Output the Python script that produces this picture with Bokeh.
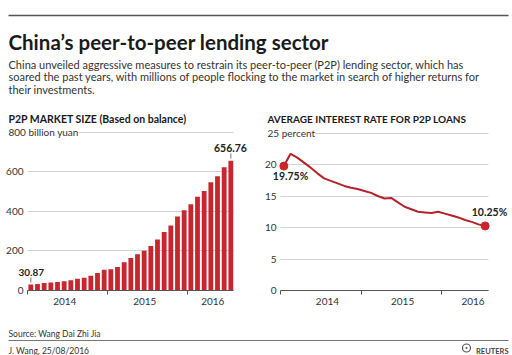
from bokeh.plotting import figure
from bokeh.layouts import column, row
from bokeh.models import Range1d, FixedTicker, Label
from bokeh.embed import file_html
from bokeh.resources import INLINE
from bokeh.core.properties import value

# ---------------- data ----------------
months = ["2014-01", "2014-02", "2014-03", "2014-04", "2014-05", "2014-06",
          "2014-07", "2014-08", "2014-09", "2014-10", "2014-11", "2014-12",
          "2015-01", "2015-02", "2015-03", "2015-04", "2015-05", "2015-06",
          "2015-07", "2015-08", "2015-09", "2015-10", "2015-11", "2015-12",
          "2016-01", "2016-02", "2016-03", "2016-04", "2016-05", "2016-06",
          "2016-07"]
market_size = [30.87, 33, 38, 41, 43, 47, 52, 59, 65, 75, 88, 105,
               107, 119, 143, 165, 184, 201, 225, 258, 296, 329, 374, 406,
               437, 474, 504, 548, 578, 624, 656.76]
interest_rate = [19.75, 21.7, 21.1, 20.3, 19.5, 18.6, 17.8, 17.4, 17.0, 16.6, 16.3, 16.1,
                 15.8, 15.5, 15.0, 14.6, 14.7, 14.0, 13.3, 12.9, 12.5, 12.4, 12.3, 12.5,
                 12.2, 11.9, 11.6, 11.2, 10.9, 10.5, 10.25]
year_labels = ["2014", "2015", "2016"]
year_starts = [0, 12, 24]
size_ticks = [0, 200, 400, 600, 800]
rate_ticks = [0, 5, 10, 15, 20, 25]

TITLE = "China\u2019s peer-to-peer lending sector"
SUBTITLE = ["China unveiled aggressive measures to restrain its peer-to-peer (P2P) lending sector, which has",
            "soared the past years, with millions of people flocking to the market in search of higher returns for",
            "their investments."]
LEFT_TITLE = "P2P MARKET SIZE (Based on balance)"
RIGHT_TITLE = "AVERAGE INTEREST RATE FOR P2P LOANS"
SOURCE = "Source: Wang Dai Zhi Jia"
CREDIT = "J. Wang,  25/08/2016"

FONT = "Lato"
RED = "#c9252f"
LINE_RED = "#b3232c"
TXT = "#333333"
GRID = "#d2d2d2"

x = [i + 0.5 for i in range(len(months))]

# ---------------- header ----------------
header = figure(width=512, height=125, x_range=Range1d(0, 512), y_range=Range1d(125, 0),
                x_axis_type=None, y_axis_type=None, toolbar_location=None,
                output_backend="svg", min_border=0, title=None)
header.grid.visible = False
header.outline_line_color = None
header.segment(x0=[8], y0=[15], x1=[508], y1=[15], line_color="#555555", line_width=1.3)
header.text(x=[8], y=[41.5], text=[TITLE], text_font=value(FONT), text_font_style="bold",
            text_font_size="20.5px", text_baseline="alphabetic", text_color="#1a1a1a")
header.text(x=[8, 8, 8], y=[63.5, 76, 88.5], text=SUBTITLE, text_font=value(FONT),
            text_font_size="11px", text_baseline="alphabetic", text_color=TXT)
header.text(x=[8], y=[118], text=[LEFT_TITLE], text_font=value(FONT),
            text_font_style="bold", text_font_size="10.5px", text_baseline="alphabetic",
            text_color="#1a1a1a")
header.text(x=[267], y=[118], text=[RIGHT_TITLE], text_font=value(FONT),
            text_font_style="bold", text_font_size="10px", text_baseline="alphabetic",
            text_color="#1a1a1a")

# chart panels: page y 125..310; axis origin at page y 290
PANEL_W, PANEL_H = 256, 185
ORIGIN_Y = 165  # px from panel top to the zero line


def make_chart(origin_x, px_per_x, px_per_y, yticks, label_pos, x_end):
    xr = Range1d(-origin_x / px_per_x, (PANEL_W - origin_x) / px_per_x)
    yr = Range1d(-(PANEL_H - ORIGIN_Y) / px_per_y, ORIGIN_Y / px_per_y)
    p = figure(width=PANEL_W, height=PANEL_H, x_range=xr, y_range=yr, min_border=0,
               toolbar_location=None, output_backend="svg", title=None)
    p.outline_line_color = None
    p.xgrid.visible = False
    p.ygrid.grid_line_color = GRID
    p.ygrid.grid_line_width = 1
    p.ygrid.cross_bounds = (0, x_end)
    p.yaxis.fixed_location = 0
    p.yaxis.ticker = FixedTicker(ticks=yticks)
    p.yaxis.axis_line_color = None
    p.yaxis.major_tick_line_color = None
    p.yaxis.major_tick_out = 0
    p.yaxis.major_tick_in = 0
    p.yaxis.minor_tick_line_color = None
    p.yaxis.minor_tick_out = 0
    p.yaxis.major_label_standoff = 4
    p.yaxis.major_label_text_font = FONT
    p.yaxis.major_label_text_font_size = "10px"
    p.yaxis.major_label_text_color = TXT
    p.yaxis.major_label_overrides = {yticks[-1]: ""}
    p.xaxis.fixed_location = 0
    p.xaxis.bounds = (0, x_end)
    p.xaxis.ticker = FixedTicker(ticks=label_pos, minor_ticks=year_starts)
    p.xaxis.major_label_overrides = {pos: lab for pos, lab in zip(label_pos, year_labels)}
    p.xaxis.major_tick_out = 0
    p.xaxis.major_tick_in = 0
    p.xaxis.minor_tick_out = 4
    p.xaxis.minor_tick_in = 0
    p.xaxis.minor_tick_line_color = "#555555"
    p.xaxis.axis_line_color = "#555555"
    p.xaxis.axis_line_width = 1.2
    p.xaxis.major_label_standoff = 3
    p.xaxis.major_label_text_font = FONT
    p.xaxis.major_label_text_font_size = "10px"
    p.xaxis.major_label_text_color = TXT
    return p


# ---------------- left chart ----------------
left = make_chart(27, 206 / 30.9, 160 / 810, size_ticks, [5.6, 17.6, 27.8], 30.9)
left.vbar(x=x, top=market_size, width=0.72, fill_color=RED, line_color=None)
left.segment(x0=[x[0], x[-1]], y0=[40, 668], x1=[x[0], x[-1]], y1=[66, 694],
             line_color="#777777", line_width=1)
left.add_layout(Label(x=-2.85, y=800, text="800 billion yuan", text_font=FONT, text_font_size="10px",
                      text_color=TXT, text_baseline="middle", text_align="left",
                      background_fill_color="white"))
left.add_layout(Label(x=-1.35, y=93, text=f"{market_size[0]:.2f}", text_font=FONT,
                      text_font_size="10px", text_font_style="bold", text_color="#222222",
                      text_baseline="middle", text_align="left"))
left.add_layout(Label(x=30.44, y=719, text=f"{market_size[-1]:.2f}", text_font=FONT,
                      text_font_size="10.5px", text_font_style="bold", text_color="#222222",
                      text_baseline="middle", text_align="center"))

# ---------------- right chart ----------------
right = make_chart(24, 208 / 31, 160 / 25.4, rate_ticks, [7.0, 18.2, 28.7], 31)
right.line(x=x, y=interest_rate, line_color=LINE_RED, line_width=2)
right.scatter(x=[x[0], x[-1]], y=[interest_rate[0], interest_rate[-1]], size=8,
              fill_color=RED, line_color=RED)
right.add_layout(Label(x=-1.94, y=25, text="25 percent", text_font=FONT, text_font_size="10px",
                       text_color=TXT, text_baseline="middle", text_align="left",
                       background_fill_color="white"))
right.add_layout(Label(x=1.5, y=18.2, text=f"{interest_rate[0]:.2f}%", text_font=FONT,
                       text_font_size="10.5px", text_font_style="bold", text_color="#222222",
                       text_baseline="middle", text_align="center"))
right.add_layout(Label(x=31.15, y=12.5, text=f"{interest_rate[-1]:.2f}%", text_font=FONT,
                       text_font_size="10.5px", text_font_style="bold", text_color="#222222",
                       text_baseline="middle", text_align="center"))

# ---------------- footer ----------------
footer = figure(width=512, height=45, x_range=Range1d(0, 512), y_range=Range1d(45, 0),
                x_axis_type=None, y_axis_type=None, toolbar_location=None,
                output_backend="svg", min_border=0, title=None)
footer.grid.visible = False
footer.outline_line_color = None
footer.text(x=[8], y=[23.5], text=[SOURCE], text_font=value(FONT), text_font_size="8.5px",
            text_baseline="alphabetic", text_color=TXT)
footer.segment(x0=[8], y0=[30], x1=[508], y1=[30], line_color="#777777", line_width=1)
footer.text(x=[8], y=[40.5], text=[CREDIT], text_font=value(FONT), text_font_size="8.5px",
            text_baseline="alphabetic", text_color=TXT)
footer.text(x=[508], y=[40.5], text=["REUTERS"], text_font=value(FONT), text_font_style="bold",
            text_font_size="7.5px", text_align="right", text_baseline="alphabetic",
            text_color="#444444")
footer.scatter(x=[466], y=[37.5], size=8, marker="circle_dot", fill_color=None,
               line_color="#555555", line_width=1.2)

layout = column(header, row(left, right, spacing=0), footer, spacing=0)
open("out.html", "w").write(file_html(layout, INLINE))
